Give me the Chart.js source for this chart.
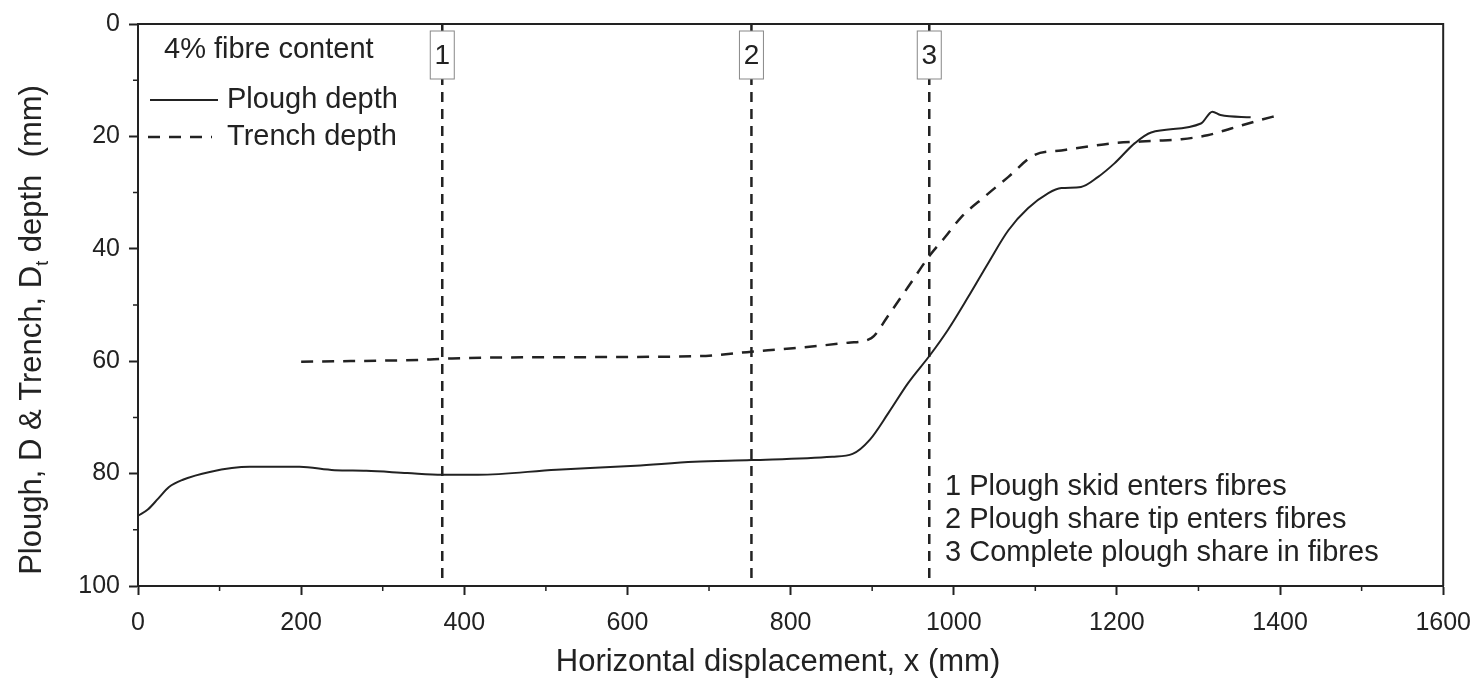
<!DOCTYPE html>
<html>
<head>
<meta charset="utf-8">
<script src="https://cdn.jsdelivr.net/npm/chart.js@4.4.0/dist/chart.umd.min.js"></script>
<style>
  body { margin: 0; background: #fff; }
  #wrap { width: 1484px; height: 695px; position: relative; }
</style>
</head>
<body>
<div id="wrap"><canvas id="chDepth"></canvas></div>
<script>
// plough depth (solid)
var ploughX = [0, 12, 25, 38, 55, 88, 137, 198, 241, 280, 330, 373, 417, 513, 610, 682, 752, 851, 876, 897, 920, 944, 971, 993, 1018, 1042, 1067, 1091, 1116, 1132, 1156, 1177, 1197, 1222, 1242, 1303, 1317, 1327, 1364];
var ploughD = [87.5, 86.4, 84.4, 82.4, 81.1, 79.7, 78.8, 78.8, 79.4, 79.5, 79.9, 80.2, 80.2, 79.3, 78.6, 77.9, 77.6, 77.0, 76.5, 74.0, 69.2, 63.9, 58.9, 54.4, 48.5, 42.6, 36.7, 32.8, 30.1, 29.2, 29.0, 27.2, 24.8, 21.2, 19.3, 17.7, 15.6, 16.2, 16.6];
// trench depth (dashed)
var trenchX = [200, 358, 385, 500, 687, 752, 803, 871, 899, 920, 944, 971, 989, 1009, 1038, 1067, 1099, 1132, 1165, 1197, 1246, 1279, 1311, 1340, 1373, 1399];
var trenchD = [60.1, 59.7, 59.5, 59.3, 59.1, 58.3, 57.7, 56.7, 55.9, 51.8, 46.8, 41.1, 38.0, 34.4, 30.7, 27.2, 23.3, 22.5, 21.8, 21.2, 20.8, 20.5, 19.8, 18.6, 17.2, 16.2];
// event markers
var markerX = [373, 752, 970];
var markerLabels = ['1', '2', '3'];
var notes = ['1 Plough skid enters fibres', '2 Plough share tip enters fibres', '3 Complete plough share in fibres'];

var ink = '#222';
var fontName = '"Liberation Sans", Arial, sans-serif';

function pts(xs, ys) {
    return xs.map(function (x, i) { return { x: x, y: ys[i] }; });
}

var datasets = [
    { label: 'Plough depth', data: pts(ploughX, ploughD), borderColor: ink, borderWidth: 2, cubicInterpolationMode: 'monotone' },
    { label: 'Trench depth', data: pts(trenchX, trenchD), borderColor: ink, borderWidth: 2.5, borderDash: [12, 9], cubicInterpolationMode: 'monotone' }
];
markerX.forEach(function (mx, i) {
    datasets.push({ label: 'marker ' + markerLabels[i], data: [{ x: mx, y: 0 }, { x: mx, y: 100 }], borderColor: ink, borderWidth: 2.5, borderDash: [10, 7] });
});
datasets.forEach(function (d) { d.showLine = true; d.pointRadius = 0; d.fill = false; });

var decor = {
    id: 'decor',
    afterDatasetsDraw: function (chart) {
        var ctx = chart.ctx, a = chart.chartArea;
        var xs = chart.scales.x, ys = chart.scales.y;
        ctx.save();
        // frame top / right
        ctx.strokeStyle = ink;
        ctx.lineWidth = 2;
        ctx.beginPath();
        ctx.moveTo(a.left, a.top); ctx.lineTo(a.right, a.top); ctx.lineTo(a.right, a.bottom);
        ctx.stroke();
        // minor ticks
        ctx.lineWidth = 1.5;
        ctx.beginPath();
        for (var v = 100; v < 1600; v += 200) {
            var px = xs.getPixelForValue(v);
            ctx.moveTo(px, a.bottom); ctx.lineTo(px, a.bottom + 5);
        }
        for (var w = 10; w < 100; w += 20) {
            var py = ys.getPixelForValue(w);
            ctx.moveTo(a.left, py); ctx.lineTo(a.left - 5, py);
        }
        ctx.stroke();
        // marker boxes
        ctx.font = '28px ' + fontName;
        ctx.textAlign = 'center';
        ctx.textBaseline = 'middle';
        markerX.forEach(function (mx, i) {
            var px = xs.getPixelForValue(mx);
            ctx.fillStyle = '#fff';
            ctx.fillRect(px - 12, a.top + 7, 24, 48);
            ctx.strokeStyle = '#888';
            ctx.lineWidth = 1;
            ctx.strokeRect(px - 12, a.top + 7, 24, 48);
            ctx.fillStyle = ink;
            ctx.fillText(markerLabels[i], px, a.top + 32);
        });
        // legend
        ctx.textAlign = 'left';
        ctx.font = '29px ' + fontName;
        ctx.fillText('4% fibre content', 164, 50);
        ctx.fillText('Plough depth', 227, 100);
        ctx.fillText('Trench depth', 227, 137);
        ctx.strokeStyle = ink;
        ctx.lineWidth = 2;
        ctx.beginPath(); ctx.moveTo(150, 100); ctx.lineTo(218, 100); ctx.stroke();
        ctx.lineWidth = 2.5;
        ctx.setLineDash([12, 9]);
        ctx.beginPath(); ctx.moveTo(148, 137); ctx.lineTo(212, 137); ctx.stroke();
        ctx.setLineDash([]);
        // notes
        notes.forEach(function (t, i) {
            ctx.fillText(t, 945, 487 + i * 33);
        });
        // x title
        ctx.textAlign = 'center';
        ctx.font = '31px ' + fontName;
        ctx.fillText('Horizontal displacement, x (mm)', 778, 662);
        // y title with subscript
        ctx.textAlign = 'left';
        ctx.translate(32, (a.top + a.bottom) / 2 + 25);
        ctx.rotate(-Math.PI / 2);
        ctx.font = '31px ' + fontName;
        var p1 = 'Plough, D & Trench, D', sub = 't', p2 = ' depth  (mm)';
        var w1 = ctx.measureText(p1).width, w2 = ctx.measureText(p2).width;
        ctx.font = '18px ' + fontName;
        var ws = ctx.measureText(sub).width;
        var x0 = -(w1 + ws + w2) / 2;
        ctx.font = '31px ' + fontName;
        ctx.fillText(p1, x0, 0);
        ctx.fillText(p2, x0 + w1 + ws, 0);
        ctx.font = '18px ' + fontName;
        ctx.fillText(sub, x0 + w1, 11);
        ctx.restore();
    }
};

new Chart(document.getElementById('chDepth'), {
    type: 'scatter',
    data: { datasets: datasets },
    options: {
        responsive: true,
        maintainAspectRatio: false,
        animation: false,
        layout: { padding: { top: 24, right: 38, left: 0, bottom: 0 } },
        plugins: { legend: { display: false }, tooltip: { enabled: false } },
        scales: {
            x: {
                type: 'linear', min: 0, max: 1600,
                ticks: { stepSize: 200, color: ink, font: { family: fontName, size: 25 }, padding: 13, callback: function (v) { return String(v); } },
                grid: { drawOnChartArea: false, drawTicks: true, tickLength: 9, tickColor: ink, tickWidth: 2 },
                border: { display: true, color: ink, width: 2 },
                afterFit: function (s) { s.height = 109; }
            },
            y: {
                type: 'linear', min: 0, max: 100, reverse: true,
                ticks: { stepSize: 20, color: ink, font: { family: fontName, size: 25 }, padding: 9, callback: function (v) { return String(v); } },
                grid: { drawOnChartArea: false, drawTicks: true, tickLength: 9, tickColor: ink, tickWidth: 2 },
                border: { display: true, color: ink, width: 2 },
                afterFit: function (s) { s.width = 138; }
            }
        }
    },
    plugins: [decor]
});
</script>
</body>
</html>
